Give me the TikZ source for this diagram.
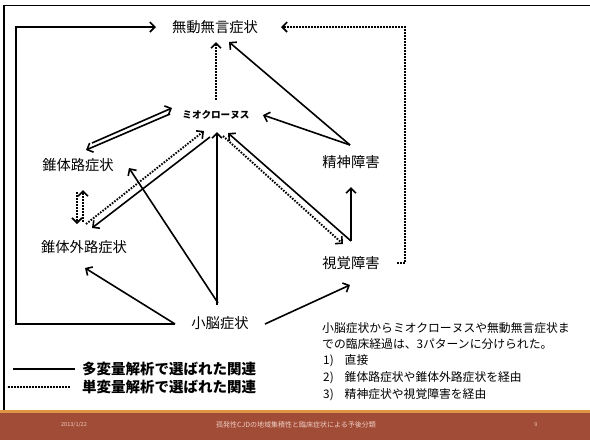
\documentclass[tikz,border=0pt]{standalone}
\usepackage{fontspec}
\newfontfamily\jp{Noto Sans CJK JP}
\usetikzlibrary{arrows.meta,calc}
\definecolor{footbrown}{RGB}{160,76,54}
\definecolor{footorange}{RGB}{222,150,70}
\definecolor{foottext}{RGB}{240,205,195}
\begin{document}
\begin{tikzpicture}[x=1pt,y=-1pt,
  lbl/.style={font=\jp\fontsize{14.3}{16}\selectfont, inner sep=0pt},
  miolbl/.style={font=\jp\bfseries\fontsize{9.6}{11}\selectfont, inner sep=0pt},
  txt/.style={font=\jp\fontsize{11.8}{14}\selectfont, inner sep=0pt, anchor=west},
  legtxt/.style={font=\jp\bfseries\fontsize{14.5}{16}\selectfont, inner sep=0pt, anchor=west},
  foot/.style={font=\jp\fontsize{5.5}{6}\selectfont, text=foottext, inner sep=0pt},
  sol/.style={line width=1.6pt, -{Straight Barb[length=5pt,width=10pt]}},
  dot/.style={line width=1.9pt, dash pattern=on 1.6pt off 1.4pt, -{Straight Barb[length=5pt,width=10pt,line width=1.6pt]}},
  solline/.style={line width=2.2pt},
  dotline/.style={line width=2pt, dash pattern=on 1.6pt off 1.4pt}]
\path[use as bounding box] (0,0) rectangle (590,440);
\fill[white] (0,0) rectangle (590,440);
% frame
\draw[line width=1.2pt] (4,410) -- (4,5.5) -- (590,5.5);
% footer
\fill[footorange] (0,409.5) rectangle (590,413);
\fill[footbrown] (0,413) rectangle (590,440);
\node[foot] (fdate) at (74,425) {2013/1/22};
\node[foot, font=\jp\fontsize{7}{8}\selectfont] (ftitle) at (296,425) {孤発性CJDの地域集積性と臨床症状による予後分類};
\node[foot] (fpage) at (536,425) {9};
% nodes
\node[lbl] (muo) at (215,27) {無動無言症状};
\node[miolbl] (mio) at (216,115) {ミオクローヌス};
\node[lbl] (sui) at (78,165) {錐体路症状};
\node[lbl] (gai) at (84,247) {錐体外路症状};
\node[lbl] (sho) at (220,323) {小脳症状};
\node[lbl] (sei) at (351,162) {精神障害};
\node[lbl] (shi) at (351,263) {視覚障害};
% connectors
\draw[sol] ($(sho)+(-45,1)$) -- ($(sho)+(-204,1)$) |- ($(muo)+(-59,0)$);
\draw[dot] ($(shi)+(46,0)$) -- ++(8,0) |- ($(muo)+(66,0)$);
\draw[dot] ($(mio)+(0,-15)$) -- ($(muo)+(1,15)$);
\draw[sol] ($(sei)+(-1,-17)$) -- ($(muo)+(14,15)$);
\draw[sol] ($(sei)+(-1,-17)$) -- ($(mio)+(47,0)$);
\draw[sol] ($(sui)+(14,-22)$) -- ($(mio)+(-44,-7)$);
\draw[sol] ($(mio)+(-46,-1)$) -- ($(sui)+(8,-15)$);
\draw[dot] ($(gai)+(2,-23)$) -- ($(mio)+(-12,16)$);
\draw[sol] ($(mio)+(-6,22)$) -- ($(gai)+(8,-19)$);
\draw[dot] ($(gai)+(-1,-25)$) -- ($(sui)+(5,25)$);
\draw[dot] ($(sui)+(-1,27)$) -- ($(gai)+(-7,-23)$);
\draw[sol] ($(sho)+(-2,-20)$) -- ($(sui)+(51,3)$);
\draw[sol] ($(sho)+(-3,-18)$) -- ($(mio)+(1,17)$);
\draw[sol] ($(sho)+(-45,1)$) -- ($(gai)+(1,21)$);
\draw[sol] ($(sho)+(45,1)$) -- ($(shi)+(-1,22)$);
\draw[dot] ($(mio)+(7,21)$) -- ($(shi)+(-8,-19)$);
\draw[sol] ($(shi)+(0,-22)$) -- ($(mio)+(12,18)$);
\draw[sol] ($(shi)+(0,-22)$) -- ($(sei)+(0,25)$);
% legend
\node[legtxt] (lg1) at (82,369) {多変量解析で選ばれた関連};
\node[legtxt] (lg2) at (82,387) {単変量解析で選ばれた関連};
\draw[solline] ($(lg1.west)+(-7,0)$) -- ++(-62,0);
\draw[dotline] ($(lg2.west)+(-12,0)$) -- ++(-63,0);
% text block
\node[txt] (t1) at (322,328) {小脳症状からミオクローヌスや無動無言症状ま};
\node[txt] (t2) at (322,344) {での臨床経過は、3パターンに分けられた。};
\node[txt] (t3) at (323,361) {1)\hspace{11pt}直接};
\node[txt] (t4) at (323,378) {2)\hspace{11pt}錐体路症状や錐体外路症状を経由};
\node[txt] (t5) at (323,395) {3)\hspace{11pt}精神症状や視覚障害を経由};
\end{tikzpicture}
\end{document}
